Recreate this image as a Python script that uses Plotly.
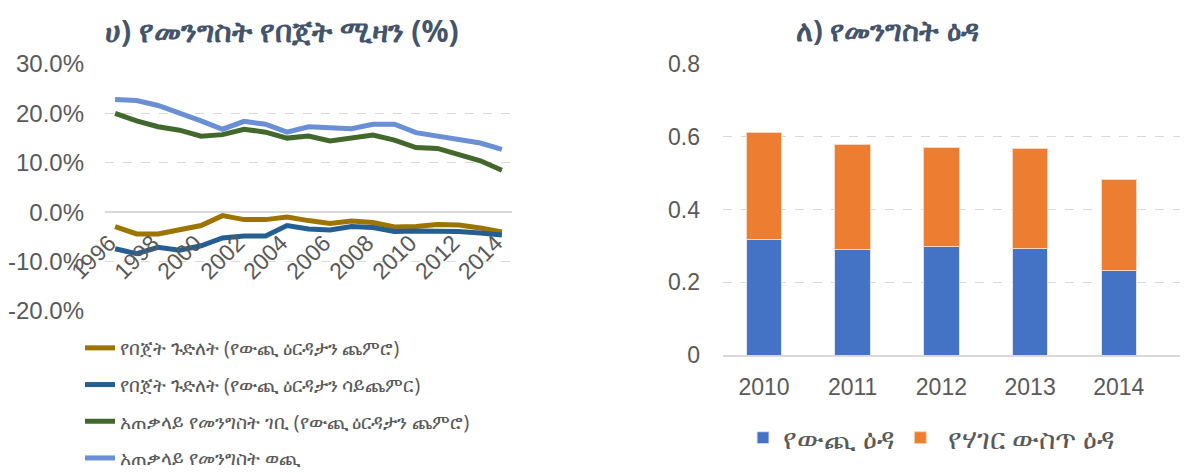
import plotly.graph_objects as go

# ሀ) budget balance, % (1996-2014)
years = list(range(1996, 2015))
deficit_incl_grants = [-2.9, -4.4, -4.4, -3.5, -2.7, -0.7, -1.5, -1.5, -1.0, -1.7,
                       -2.3, -1.8, -2.1, -3.0, -2.9, -2.5, -2.6, -3.2, -4.0]
deficit_excl_grants = [-7.4, -8.4, -7.1, -7.7, -6.8, -5.2, -4.8, -4.8, -2.7, -3.4,
                       -3.6, -2.9, -3.1, -3.9, -3.8, -3.8, -3.9, -4.2, -4.6]
revenue_incl_grants = [20.0, 18.5, 17.3, 16.6, 15.4, 15.7, 16.8, 16.2, 15.0, 15.4,
                       14.4, 14.9, 15.6, 14.6, 13.1, 12.9, 11.7, 10.4, 8.5]
total_expenditure = [22.8, 22.6, 21.6, 20.1, 18.5, 16.8, 18.4, 17.8, 16.2, 17.3,
                     17.1, 16.9, 17.8, 17.8, 16.1, 15.4, 14.6, 14.0, 12.7]
pct_ticks = [-20, -10, 0, 10, 20, 30]
pct_labels = ["-20.0%", "-10.0%", "0.0%", "10.0%", "20.0%", "30.0%"]

line_names = ["የበጀት ጉድለት (የውጪ ዕርዳታን ጨምሮ)",
              "የበጀት ጉድለት (የውጪ ዕርዳታን ሳይጨምር)",
              "አጠቃላይ የመንግስት ገቢ (የውጪ ዕርዳታን ጨምሮ)",
              "አጠቃላይ የመንግስት ወጪ"]
line_colors = ["#9c7500", "#255e91", "#43682b", "#6a8fd5"]

# ለ) government debt
debt_years = ["2010", "2011", "2012", "2013", "2014"]
external_debt = [0.318, 0.289, 0.297, 0.294, 0.233]
domestic_debt = [0.293, 0.289, 0.274, 0.273, 0.250]
bar_names = ["የውጪ ዕዳ", " የሃገር ውስጥ ዕዳ"]

# page body adds an 8px margin, so the figure is drawn 8px smaller and offset
OFF = 8
W, H = 1188 - OFF, 473 - OFF
gray = "#595959"
tickfont = dict(family="Liberation Sans, Arial", size=23, color=gray)

fig = go.Figure()

series = [deficit_incl_grants, deficit_excl_grants, revenue_incl_grants, total_expenditure]
for i, (name, vals, col) in enumerate(zip(line_names, series, line_colors)):
  fig.add_trace(go.Scatter(x=years, y=vals, name=name, mode="lines",
                           line=dict(color=col, width=5),
                           legendgroup="g%d" % i, legend="legend",
                           xaxis="x", yaxis="y"))

fig.add_trace(go.Bar(x=debt_years, y=external_debt, name=bar_names[0],
                     marker=dict(color="#4472c4", line=dict(color="#dfe6f5", width=1)),
                     width=0.4, xaxis="x2", yaxis="y2", legend="legend2"))
fig.add_trace(go.Bar(x=debt_years, y=domestic_debt, name=bar_names[1],
                     marker=dict(color="#ed7d31", line=dict(color="#f8d5bd", width=1)),
                     width=0.4, xaxis="x2", yaxis="y2", legend="legend2"))

def px_x(p):
  return (p - OFF) / W

def px_y(p):
  return 1 - (p - OFF) / H

fig.update_layout(
  width=W, height=H,
  margin=dict(l=0, r=0, t=0, b=0, autoexpand=False),
  plot_bgcolor="white", paper_bgcolor="white",
  barmode="stack",
  font=dict(family="Noto Sans, DejaVu Sans", color=gray),
  xaxis=dict(domain=[px_x(105), px_x(512)], range=[1995.53, 2014.47],
             anchor="free", position=px_y(213), tickmode="linear", tick0=1996, dtick=2,
             tickangle=-45, tickfont=tickfont, showgrid=False, showline=False,
             zeroline=False, ticks="", automargin=False,
             ticklabelstandoff=11, ticklabelshift=-6),
  yaxis=dict(domain=[px_y(311), px_y(64)], range=[-20, 30],
             tickvals=pct_ticks, ticktext=pct_labels,
             tickfont=dict(family="Liberation Sans, Arial", size=24, color=gray),
             showgrid=True, gridcolor="#d9d9d9", griddash="dash", gridwidth=1.3,
             zeroline=True, zerolinecolor="#d9d9d9", zerolinewidth=2,
             anchor="x", ticks="", ticklabelstandoff=20, automargin=False),
  xaxis2=dict(domain=[px_x(723), 1.0], type="category", range=[-0.462, 4.78],
              anchor="y2", tickfont=tickfont, showgrid=False, showline=True,
              linecolor="#d9d9d9", linewidth=2, ticks="", zeroline=False,
              automargin=False, ticklabelstandoff=10),
  yaxis2=dict(domain=[px_y(355), px_y(64)], range=[0, 0.8], dtick=0.2,
              tickformat="~g", tickfont=tickfont, anchor="x2",
              showgrid=True, gridcolor="#d9d9d9", griddash="dash", gridwidth=1.3,
              zeroline=False, ticks="", ticklabelstandoff=22, automargin=False),
  legend=dict(x=px_x(80), y=px_y(329), xanchor="left", yanchor="top",
              orientation="v", tracegroupgap=9,
              font=dict(size=19, color=gray), bgcolor="rgba(0,0,0,0)"),
  legend2=dict(x=px_x(932), y=px_y(438), xanchor="center", yanchor="middle",
               orientation="h", traceorder="normal",
               font=dict(size=28, color=gray), bgcolor="rgba(0,0,0,0)"),
  annotations=[
    dict(text="<b>ሀ) የመንግስት የበጀት ሚዛን (%)</b>", x=px_x(282), y=1.0,
         xanchor="center", yanchor="top",
         xref="paper", yref="paper", showarrow=False,
         font=dict(size=30, color="#44546a")),
    dict(text="<b>ለ) የመንግስት ዕዳ</b>", x=px_x(887), y=1.0,
         xanchor="center", yanchor="top",
         xref="paper", yref="paper", showarrow=False,
         font=dict(size=29, color="#44546a")),
  ],
)

fig.write_html("out.html")
